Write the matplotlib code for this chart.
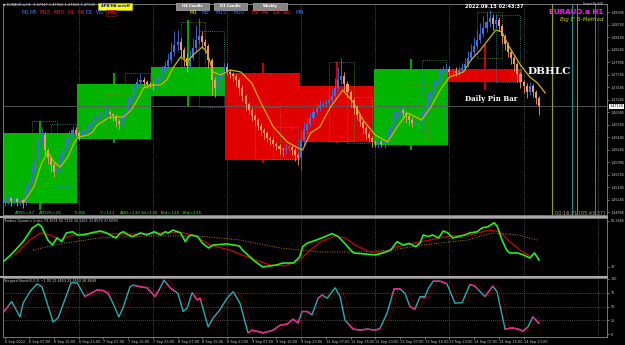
import numpy as np
import matplotlib
matplotlib.use('Agg')
import matplotlib.pyplot as plt
from matplotlib.patches import Rectangle
from matplotlib.lines import Line2D
import matplotlib.transforms as mtransforms

# ---- H1 candles, prices in units of 0.0001 (14658 -> 1.4658) ----
first_open = 14518
closes = ([14524, 14528, 14522, 14526, 14520, 14524, 14518, 14544, 14560, 14580, 14604, 14644,
           14654, 14624, 14608, 14594, 14580, 14588, 14604, 14624, 14638, 14650, 14664, 14658] +
          [14652, 14658, 14664, 14670, 14678, 14684, 14690, 14696, 14698, 14700, 14696, 14692,
           14682, 14676, 14686, 14700, 14716, 14732, 14748, 14760, 14764, 14760, 14756, 14754] +
          [14752, 14760, 14770, 14780, 14792, 14804, 14820, 14834, 14840, 14824, 14808, 14792,
           14808, 14828, 14844, 14852, 14840, 14832, 14804, 14764, 14748, 14764, 14780, 14790] +
          [14780, 14776, 14772, 14764, 14748, 14732, 14716, 14704, 14692, 14684, 14672, 14664,
           14658, 14648, 14644, 14636, 14632, 14626, 14624, 14628, 14630, 14624, 14614, 14608] +
          [14644, 14664, 14676, 14688, 14700, 14708, 14714, 14716, 14718, 14724, 14732, 14748,
           14764, 14772, 14756, 14740, 14724, 14708, 14694, 14680, 14668, 14656, 14648, 14640] +
          [14638, 14640, 14636, 14644, 14656, 14672, 14688, 14700, 14704, 14698, 14692, 14684,
           14678, 14680, 14682, 14688, 14704, 14724, 14740, 14752, 14764, 14776, 14784, 14786] +
          [14780, 14782, 14778, 14784, 14788, 14796, 14808, 14820, 14832, 14844, 14856, 14868,
           14880, 14888, 14876, 14884, 14872, 14852, 14836, 14820, 14808, 14796, 14776, 14760] +
          [14752, 14740, 14752, 14740, 14728, 14712])
wick_up = ([4, 6, 3, 5, 4, 6, 3, 8, 10, 12, 20, 26, 14, 6, 5, 4, 6, 8, 10, 8, 10, 12, 8, 6] +
           [4, 6, 5, 8, 6, 10, 8, 6, 8, 10, 4, 3, 4, 5, 8, 10, 12, 14, 10, 8, 12, 6, 4, 4] +
           [6, 8, 10, 12, 10, 14, 20, 28, 24, 8, 6, 10, 16, 20, 30, 36, 10, 6, 5, 4, 6, 10, 8, 8] +
           [8, 6, 5, 4, 4, 6, 5, 4, 6, 4, 5, 6, 4, 5, 4, 6, 4, 5, 4, 8, 6, 4, 5, 4] +
           [20, 16, 12, 10, 8, 8, 10, 6, 8, 10, 14, 20, 26, 36, 8, 6, 5, 4, 6, 4, 5, 4, 6, 4] +
           [4, 6, 4, 8, 10, 12, 14, 10, 6, 4, 5, 4, 6, 8, 10, 12, 14, 16, 12, 10, 14, 12, 8, 10] +
           [6, 5, 8, 6, 10, 12, 14, 16, 18, 20, 22, 24, 20, 16, 8, 12, 6, 4, 5, 4, 6, 4, 5, 4] +
           [4, 6, 8, 4, 5, 4])
wick_dn = ([6, 8, 10, 6, 8, 6, 10, 4, 3, 4, 5, 6, 8, 10, 12, 14, 10, 8, 6, 5, 4, 6, 4, 6] +
           [8, 6, 4, 5, 6, 4, 5, 6, 8, 6, 8, 10, 12, 10, 6, 4, 5, 4, 6, 8, 6, 10, 8, 6] +
           [8, 6, 4, 5, 6, 4, 6, 8, 12, 14, 16, 12, 6, 4, 6, 8, 12, 14, 16, 30, 18, 10, 8, 6] +
           [6, 8, 10, 12, 14, 10, 12, 8, 10, 12, 8, 10, 12, 8, 10, 6, 8, 10, 12, 8, 6, 10, 12, 14] +
           [24, 10, 8, 6, 5, 4, 6, 4, 6, 4, 5, 4, 6, 8, 12, 10, 14, 12, 10, 8, 12, 10, 8, 10] +
           [8, 10, 6, 8, 5, 4, 6, 8, 10, 12, 14, 10, 8, 12, 10, 6, 4, 5, 4, 6, 4, 5, 6, 4] +
           [6, 8, 6, 5, 4, 6, 5, 4, 6, 4, 5, 6, 8, 10, 12, 8, 10, 14, 12, 10, 12, 14, 16, 12] +
           [14, 12, 6, 10, 12, 18])

# ---- daily candles (boxes) ----
day_open = [14518, 14646, 14732, 14778, 14752, 14634, 14786]
day_close = [14658, 14756, 14790, 14604, 14640, 14786, 14760]
day_high = [14682, 14778, 14884, 14798, 14800, 14806, 14834]
day_low = [14504, 14638, 14710, 14598, 14638, 14624, 14744]

# ---- H4 range boxes (dotted) ----
h4a_start = [9, 33, 57, 81, 105, 129, 153]
h4a_top = [14682, 14736, 14880, 14710, 14800, 14756, 14900]
h4a_bot = [14552, 14648, 14746, 14606, 14642, 14638, 14808]
h4b_start = [15, 39, 63, 87, 111, 135, 159]
h4b_top = [14676, 14778, 14862, 14670, 14730, 14804, 14894]
h4b_bot = [14552, 14694, 14710, 14606, 14638, 14664, 14760]

# ---- moving average ----
ma_x = [6, 9.5, 12, 14, 16, 18, 20.5, 22.5, 24, 27, 28.5, 30, 33.5, 36, 38.5, 41, 43, 45, 48, 50.5,
        52.5, 54.5, 57, 59, 61, 64, 65.5, 67.5, 70, 73, 76.5, 80, 83, 87, 91.5, 95, 96.5, 99, 102,
        105.5, 109.5, 113, 116, 120, 124, 127, 130.5, 135, 138, 141, 144, 148.5, 151, 154, 157,
        159, 161, 163, 165, 167, 170, 172.5, 175]
ma_v = [14518, 14550, 14598, 14620, 14600, 14590, 14610, 14638, 14650, 14654, 14660, 14674, 14688,
        14690, 14690, 14704, 14724, 14748, 14754, 14754, 14764, 14788, 14810, 14800, 14814, 14830,
        14820, 14780, 14774, 14784, 14780, 14758, 14718, 14670, 14640, 14628, 14624, 14658, 14670,
        14710, 14744, 14718, 14684, 14654, 14640, 14670, 14698, 14684, 14710, 14744, 14770, 14780,
        14804, 14824, 14848, 14864, 14860, 14834, 14814, 14794, 14770, 14758, 14738]

# session marker lines (bar positions)
marker_bars = [177.1, 183.6, 185.2, 191.1]
marker_colors = ['#8fa400', '#168c8c', '#6c9e00', '#168c8c']

# ---- Traders Dynamic Index ----
rsi_x = [-0.5, 2, 3.5, 6, 9, 11, 12, 14, 15.5, 17, 18.5, 20, 22, 23.5, 25.5, 28, 31, 33, 36, 37.5,
         38.5, 40, 41.5, 44, 46, 48.5, 50.5, 52, 53, 54.5, 57, 58.5, 59.5, 60.5, 62.5, 64, 66, 67.5,
         72, 76, 77, 80.5, 83.5, 88, 90, 93.5, 95.5, 96.5, 98, 101, 103.5, 106, 108, 110, 112, 113,
         120, 122.5, 125, 127, 129, 131, 133, 134.5, 135.5, 137, 138.5, 140.5, 142, 143.5, 145,
         147, 149, 150.5, 153, 154.5, 156.5, 158.5, 159.5, 161, 162.5, 163.5, 166, 168, 170,
         171.5, 173]
rsi_v = [35.2, 39.8, 43.0, 48.5, 57.5, 60.1, 58.3, 49.6, 46.3, 51.0, 48.5, 54.2, 55.0, 52.9, 52.9,
         54.2, 55.5, 54.2, 50.9, 54.2, 55.0, 52.9, 51.8, 54.2, 52.9, 55.0, 52.9, 55.0, 54.2, 56.1,
         54.2, 48.5, 51.8, 52.9, 51.8, 47.6, 44.4, 46.3, 47.0, 45.7, 43.0, 36.5, 31.9, 33.2, 34.5,
         34.5, 38.5, 45.2, 47.6, 49.6, 51.6, 53.8, 51.8, 47.6, 43.0, 41.1, 39.8, 41.1, 43.0, 48.5,
         46.3, 47.4, 45.2, 47.6, 52.9, 51.8, 52.9, 50.9, 55.5, 54.2, 50.9, 51.8, 52.9, 54.2, 55.0,
         57.5, 58.3, 60.9, 58.3, 49.6, 43.0, 41.1, 41.1, 39.8, 37.8, 41.1, 36.5]
sig_x = [3.4, 8.2, 11.5, 14.7, 18, 21.2, 24.4, 30.9, 37.4, 43.8, 50.3, 56.8, 61.6, 66.5, 72.9, 79.4,
         85.9, 90.8, 95.6, 98.9, 102.1, 107, 110.2, 113.4, 118.3, 123.1, 126.4, 131.2, 137.7,
         144.2, 150.6, 157.1, 160.4, 163.6, 166.8, 170]
sig_v = [39.8, 49.6, 54.2, 52.9, 49.6, 52.2, 53.5, 54.2, 53.5, 53.5, 54.2, 54.8, 52.2, 46.3, 43.0,
         37.8, 33.2, 32.6, 36.5, 43.0, 48.3, 52.2, 50.9, 46.3, 41.7, 41.7, 45.0, 47.0, 49.6, 52.2,
         52.9, 56.1, 54.8, 48.3, 43.0, 39.1]
mid_x = [9.2, 18, 31, 47, 63, 76, 89, 102, 115, 125, 138, 150, 158, 166, 172.3]
mid_v = [43, 47, 51, 52.2, 52.2, 49.6, 44.4, 41.7, 41.7, 43, 47, 49.6, 54.2, 52.9, 49.6]

# ---- Stepped Stochastic ----
stoch_x = [-0.5, 0.7, 2.3, 5, 6, 8.2, 10.5, 12.1, 15.7, 17.3, 18.9, 21.5, 23.5, 26, 29.9, 31.9,
           33.5, 35.1, 37, 38.3, 40.6, 41.6, 43.8, 46.1, 48.7, 50, 51.6, 53.6, 56.1, 57.8, 59.1,
           60.7, 62.3, 63.3, 65.9, 67.5, 69.7, 72, 74, 76.2, 78.8, 80.1, 83.7, 86.9, 89.2, 91.4,
           93.4, 95, 96.3, 97.9, 99.5, 101.5, 102.8, 104.4, 107, 108.6, 110.2, 112.8, 115.1,
           117.3, 119.9, 121.5, 123.8, 126.1, 128, 129.6, 131.2, 132.8, 134.5, 136.1, 137.1,
           138.7, 141, 143.2, 145.8, 148.1, 150.6, 152.2, 155.5, 158, 159.4, 162, 164.3, 166.2,
           167.8, 169.4, 171, 172.9]
stoch_k = [39, 47, 59, 31, 56, 77, 91, 86, 22, 29, 53, 93, 93, 68, 80, 79, 74, 56, 31, 47,
           86, 89, 86, 84, 68, 80, 98, 84, 74, 41, 47, 75, 62, 65, 13, 29, 44, 65, 77, 56,
           2, 7, 2, 7, 16, 18, 27, 20, 41, 41, 35, 65, 71, 65, 84, 68, 25, 9, 7, 9,
           7, 10, 38, 82, 82, 74, 50, 45, 68, 68, 82, 96, 96, 91, 56, 57, 90, 87, 68, 87,
           77, 9, 11, 9, 5, 13, 31, 20]
stoch_down = [(-0.5, 1.5), (26, 34), (42, 50), (52.5, 55), (61, 63.5), (79, 95.5), (96, 98.5),
              (101.5, 103), (111, 121.5), (125.5, 128), (131, 133), (134.5, 136), (138.7, 143),
              (150.6, 153), (155.5, 158), (162, 169), (171, 173)]

time_labels = ['6 Sep 2022', '6 Sep 07:00', '6 Sep 15:00', '6 Sep 23:00', '7 Sep 07:00',
               '7 Sep 15:00', '7 Sep 23:00', '8 Sep 07:00', '8 Sep 15:00', '8 Sep 23:00',
               '9 Sep 07:00', '9 Sep 15:00', '9 Sep 23:00', '12 Sep 07:00', '12 Sep 15:00',
               '12 Sep 23:00', '13 Sep 07:00', '13 Sep 15:00', '13 Sep 23:00', '14 Sep 07:00',
               '14 Sep 15:00', '14 Sep 23:00']

BULL = '#3f6fe6'
BEAR = '#f59866'
BOX_UP = '#00b400'
BOX_DN = '#e00000'
GRID = '#8c8c8c'
AXC = '#c8c8c8'

plt.rcParams['font.family'] = ['DejaVu Sans']
W, H = 625, 345
fig = plt.figure(figsize=(6.25, 3.45), dpi=100, facecolor='black')


def fx(px):
    return px / W


def fy(py):
    return 1 - py / H


def make_ax(top, bottom):
    a = fig.add_axes([fx(3), fy(bottom), fx(607) - fx(3), (bottom - top) / H])
    a.set_facecolor('black')
    for s in a.spines.values():
        s.set_color('#8a8a8a')
        s.set_linewidth(0.6)
    a.set_xlim(-0.5, 195)
    a.tick_params(axis='y', left=False, labelleft=False, right=True, labelright=True,
                  colors=AXC, labelsize=2.4, length=1.5, width=0.4, pad=1)
    a.tick_params(axis='x', bottom=False, labelbottom=False)
    for k in range(1, 9):
        a.axvline(24 * k, color=GRID, lw=0.5, ls=(0, (1, 2)), zorder=0.6)
    return a


ax1 = make_ax(4, 215)
ax2 = make_ax(218, 276)
ax3 = make_ax(278, 336.5)

# ---------------- main chart ----------------
ax1.set_ylim(14494, 14916)
ticks = [14899.5 - 25 * k for k in range(17)]
ax1.set_yticks(ticks)
ax1.set_yticklabels([f'{t / 10000:.5f}' for t in ticks])

for d in range(len(day_open)):
    o, c = day_open[d], day_close[d]
    col = BOX_UP if c >= o else BOX_DN
    ax1.add_patch(Rectangle((24 * d - 0.5, min(o, c)), 24, abs(c - o), facecolor=col,
                            edgecolor='none', zorder=1))
    ax1.vlines(24 * d + 11.5, day_low[d], day_high[d], colors=col, lw=1.3, zorder=1.1)

for s, t, b in zip(h4a_start, h4a_top, h4a_bot):
    ax1.add_patch(Rectangle((s, b), 8, t - b, facecolor='none', edgecolor='#5f8f1f',
                            lw=0.6, ls=(0, (1, 1.5)), zorder=2))
for s, t, b in zip(h4b_start, h4b_top, h4b_bot):
    ax1.add_patch(Rectangle((s, b), 8, t - b, facecolor='none', edgecolor='#2a8f8f',
                            lw=0.6, ls=(0, (1, 1.5)), zorder=2))

ax1.axhline(closes[-1], color='#5c5c5c', lw=0.6, zorder=1.2)

x = np.arange(len(closes))
c = np.array(closes, dtype=float)
o = np.array([first_open] + closes[:-1], dtype=float)
body_lo = np.minimum(o, c)
body_hi = np.maximum(o, c)
hi = body_hi + np.array(wick_up)
lo = body_lo - np.array(wick_dn)
cols = np.where(c >= o, BULL, BEAR)
ax1.vlines(x, lo, hi, colors=cols, lw=0.6, zorder=3)
ax1.bar(x, np.maximum(body_hi - body_lo, 1.5), bottom=body_lo, width=0.66, color=cols,
        linewidth=0, zorder=3.1)

ax1.plot(ma_x, ma_v, color='#cdb400', lw=0.9, zorder=4)

for mb, mc in zip(marker_bars, marker_colors):
    ax1.axvline(mb, color=mc, lw=0.8, zorder=1.5)

trans = mtransforms.blended_transform_factory(ax1.transAxes, ax1.transData)
ax1.text(1.004, closes[-1], f'{closes[-1] / 10000:.5f}', transform=trans, fontsize=2.4,
         color='black', va='center', ha='left', zorder=6,
         bbox=dict(boxstyle='square,pad=0.15', facecolor='white', edgecolor='none'))

# ---------------- TDI ----------------
ax2.set_ylim(26.0, 64.0)
ax2.set_yticks([32, 62.2665])
ax2.set_yticklabels(['32', '62.2665'])
ax2.plot(mid_x, mid_v, color='#b8782a', lw=0.7, ls=(0, (1, 1.5)), zorder=2)
ax2.plot(sig_x, sig_v, color='#c80000', lw=0.9, zorder=3)
ax2.plot(rsi_x, rsi_v, color='#22ee22', lw=1.2, zorder=4)

# ---------------- Stochastic ----------------
ax3.set_ylim(-4.5, 101.8)
ax3.set_yticks([0, 25, 50, 75, 100])
ax3.set_yticklabels(['0', '25', '50', '75', '100'])
for lv in (25, 50, 75):
    ax3.axhline(lv, color=GRID, lw=0.5, ls=(0, (1, 2)), zorder=0.6)
ax3.plot(np.array(stoch_x) + 1.5, stoch_k, color='#8a0000', lw=0.7, ls=(0, (1, 1)), zorder=2)
ax3.plot(stoch_x, stoch_k, color='#1fb0b0', lw=1.0, zorder=3)
for a, b in stoch_down:
    xs = [a] + [v for v in stoch_x if a < v < b] + [b]
    ax3.plot(xs, np.interp(xs, stoch_x, stoch_k), color='#f0207f', lw=1.0, zorder=4)

ax3.tick_params(axis='x', bottom=True, labelbottom=True, colors=AXC, labelsize=2.5,
                length=1.5, width=0.4, pad=1)
ax3.set_xticks([8 * i for i in range(len(time_labels))])
ax3.set_xticklabels(time_labels, ha='left')

# ---------------- separators ----------------
for yy in (216.8, 277.0):
    fig.add_artist(Line2D([0, fx(607)], [fy(yy), fy(yy)], color='#a8a8a8', lw=1.5))

# ---------------- texts ----------------
fig.text(fx(3), fy(4.5), '\u25bc EURAUD.a,H1  1.47947 1.47952 1.47822 1.47900', color='#d0d0d0',
         fontsize=2.5, va='center', ha='left')
fig.text(fx(4), fy(221), 'Traders Dynamic Index 79.3074 55.7218 34.1362 33.8579 37.6099',
         color='#d0d0d0', fontsize=2.4, va='center', ha='left')
fig.text(fx(4), fy(281), 'Stepped Stoch(8,3,3) ~1.00 22.4653 22.4653 28.8649',
         color='#d0d0d0', fontsize=2.4, va='center', ha='left')

# buttons
fig.add_artist(Rectangle((fx(98), fy(9.5)), fx(132) - fx(98), (9.5 - 2.5) / H,
                         facecolor='#ffff00', edgecolor='#c0c000', lw=0.4))
fig.text(fx(115), fy(6), 'APB/HA on/off', color='#0010c0', fontsize=2.6, weight='bold',
         ha='center', va='center')
for bl, br, lab in [(176, 209, 'H4 Candle'), (214, 247, 'D1 Candle'), (253, 287, 'Weekly')]:
    fig.add_artist(Rectangle((fx(bl), fy(9.5)), fx(br) - fx(bl), (9.5 - 2.5) / H,
                             facecolor='#858585', edgecolor='#cfcfcf', lw=0.4))
    fig.text(fx((bl + br) / 2), fy(6), lab, color='white', fontsize=2.6, weight='bold',
             ha='center', va='center')

tf_names = ['M1', 'M5', 'M15', 'M30', 'H1', 'H4', 'D1', 'W1', 'MN']
tf1_x = [21, 30, 40, 53, 67, 77, 86, 96, 107]
tf1_c = ['#3f6fe6', '#3f6fe6', '#ee2020', '#ee2020', '#ee2020', '#ee2020', '#3f6fe6',
         '#3f6fe6', '#ee2020']
tf2_x = [189, 202, 216, 233, 251, 261, 273, 283, 296]
tf2_c = ['#e6e600', '#3f6fe6', '#3f6fe6', '#3f6fe6', '#ee2020', '#ee2020', '#ee2020',
         '#ee2020', '#3f6fe6']
for nm, xx, cc in zip(tf_names, tf1_x, tf1_c):
    kw = {}
    if nm == 'MN':
        kw['bbox'] = dict(boxstyle='square,pad=0.1', facecolor='#1a0000', edgecolor='#902020',
                          lw=0.4)
    fig.text(fx(xx), fy(13), nm, color=cc, fontsize=3.8, ha='left', va='center', **kw)
for nm, xx, cc in zip(tf_names, tf2_x, tf2_c):
    fig.text(fx(xx), fy(13), nm, color=cc, fontsize=3.8, ha='left', va='center')

fig.text(fx(494), fy(6), '2022.09.15 02:43:37', color='white', fontsize=3.6, weight='bold',
         ha='center', va='center')
fig.text(fx(604), fy(4), 'ScreenShot(8)', color='#d0d0d0', fontsize=2.2, ha='right', va='center')
fig.text(fx(603), fy(11.5), 'EURAUD.a H1', color='#ff10ff', fontsize=5.2, weight='bold',
         ha='right', va='center')
fig.text(fx(603), fy(19.5), "Big E' S-Method", color='#c8c800', fontsize=4.0, style='italic',
         ha='right', va='center')

fig.text(fx(549), fy(72), 'DBHLC', color='white', fontsize=7.5, weight='bold', family='DejaVu Serif',
         ha='center', va='center')
fig.text(fx(491), fy(99), 'Daily Pin Bar', color='white', fontsize=5.0, weight='bold',
         family='DejaVu Serif', ha='center', va='center')

atr_txt = ['ATR5=27', 'ATR25=25', 'T=58', 'Y=121', 'ADR=130', '5d=136', '10d=126', '20d=135']
atr_x = [15, 39, 73, 100, 120, 141, 160, 182]
for t, xx in zip(atr_txt, atr_x):
    fig.text(fx(xx), fy(213.3), t, color='#3cdc3c', fontsize=3.2, ha='left', va='center')
fig.text(fx(555), fy(212.5), '00:16:21 [05:43:37]', color='#a8a88c', fontsize=3.6,
         ha='left', va='center')

fig.savefig('out.png', dpi=100, facecolor='black')
